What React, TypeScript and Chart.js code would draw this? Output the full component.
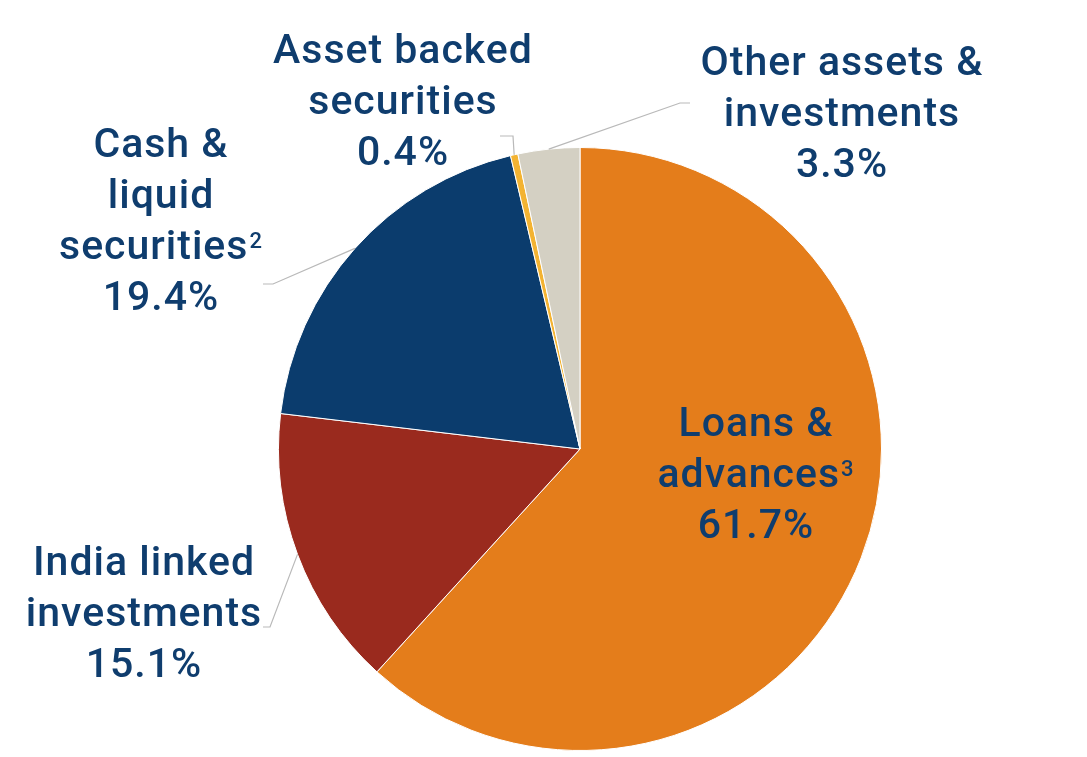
import React, { useEffect, useRef } from "react";
import { Chart, registerables } from "chart.js";

Chart.register(...registerables);

const categories = [
  "Loans & advances",
  "India linked investments",
  "Cash & liquid securities",
  "Asset backed securities",
  "Other assets & investments",
];
const shares = [61.7, 15.1, 19.4, 0.4, 3.3];
const footnotes = ["3", "", "2", "", ""];
const sliceColors = ["#E47D1B", "#9A2A1E", "#0B3C6D", "#F3B332", "#D4D0C3"];

// label layout (style only)
const labelLayout = [
  { lines: ["Loans &", "advances"], x: 756, y: 436, knee: [] as number[][] },
  { lines: ["India linked", "investments"], x: 144, y: 575, knee: [[270, 627], [263, 627]] },
  { lines: ["Cash &", "liquid", "securities"], x: 161, y: 157, knee: [[273, 284], [263, 284]] },
  { lines: ["Asset backed", "securities"], x: 403, y: 63, knee: [[513, 136], [500, 136]] },
  { lines: ["Other assets &", "investments"], x: 842, y: 75, knee: [[680, 103], [690, 103]] },
];

const labelPlugin = {
  id: "pieLabels",
  afterDraw(chart: any) {
    const ctx = chart.ctx as CanvasRenderingContext2D;
    const meta = chart.getDatasetMeta(0);
    const data = chart.data.datasets[0].data as number[];
    const font = "500 41px Roboto, 'Liberation Sans', sans-serif";
    const supFont = "500 22px Roboto, 'Liberation Sans', sans-serif";
    const lineH = 51;
    ctx.save();
    meta.data.forEach((arc: any, i: number) => {
      const p = arc.getProps(["x", "y", "startAngle", "endAngle", "outerRadius"], true);
      const mid = (p.startAngle + p.endAngle) / 2;
      const L = labelLayout[i];
      if (L.knee.length) {
        ctx.beginPath();
        ctx.strokeStyle = "#b9b9b9";
        ctx.lineWidth = 1.2;
        ctx.moveTo(p.x + Math.cos(mid) * p.outerRadius, p.y + Math.sin(mid) * p.outerRadius);
        L.knee.forEach((k) => ctx.lineTo(k[0], k[1]));
        ctx.stroke();
      }
      const lines = [...L.lines.map((t) => ({ t, sup: "" })), { t: data[i].toFixed(1) + "%", sup: "" }];
      if (footnotes[i]) lines[L.lines.length - 1].sup = footnotes[i];
      ctx.fillStyle = "#0F3D6E";
      ctx.textBaseline = "alphabetic";
      ctx.textAlign = "left";
      (ctx as any).letterSpacing = "1px";
      lines.forEach((ln, j) => {
        ctx.font = font;
        const w = ctx.measureText(ln.t).width;
        ctx.font = supFont;
        const sw = ln.sup ? ctx.measureText(ln.sup).width + 1 : 0;
        const x0 = L.x - (w + sw) / 2;
        const y = L.y + j * lineH;
        ctx.font = font;
        ctx.fillText(ln.t, x0, y);
        if (ln.sup) {
          ctx.font = supFont;
          ctx.fillText(ln.sup, x0 + w + 1, y - 11);
        }
      });
    });
    ctx.restore();
  },
};

export default function App() {
  const ref = useRef<HTMLCanvasElement>(null);
  useEffect(() => {
    if (!ref.current) return;
    const chart = new Chart(ref.current, {
      type: "pie",
      data: {
        labels: categories,
        datasets: [
          {
            data: shares,
            backgroundColor: sliceColors,
            borderColor: "#ffffff",
            borderWidth: 1,
          },
        ],
      },
      options: {
        responsive: false,
        animation: false,
        devicePixelRatio: 1,
        layout: { padding: { left: 278, right: 205, top: 147, bottom: 6 } },
        plugins: {
          legend: { display: false },
          tooltip: { enabled: false },
          title: { display: false },
        },
      },
      plugins: [labelPlugin],
    });
    return () => chart.destroy();
  }, []);
  return (
    <div style={{ position: "absolute", left: 0, top: 0, width: 1087, height: 757, background: "#fff" }}>
      <canvas ref={ref} width={1087} height={757} />
    </div>
  );
}
